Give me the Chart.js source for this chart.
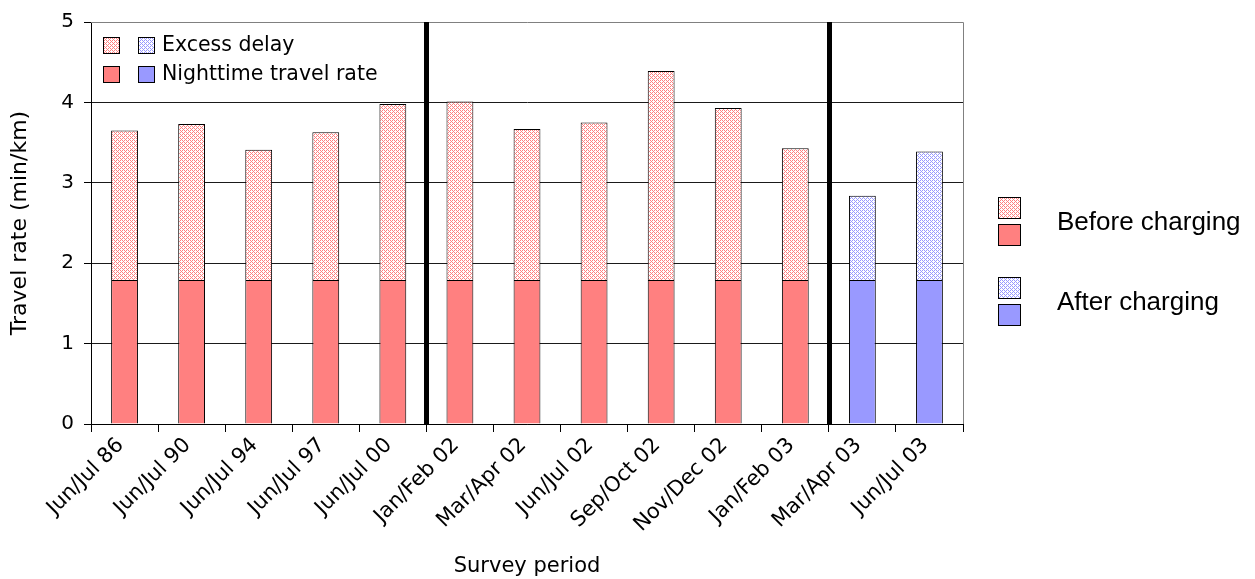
<!DOCTYPE html>
<html>
<head>
<meta charset="utf-8">
<script src="https://cdn.jsdelivr.net/npm/chart.js@4/dist/chart.umd.min.js"></script>
<style>
  html, body { margin: 0; padding: 0; background: #ffffff; }
  #wrap { width: 1255px; height: 579px; }
</style>
</head>
<body>
<div id="wrap"><canvas id="c" width="1255" height="579"></canvas></div>
<script>
// Survey periods along the x axis
const categories = ['Jun/Jul 86', 'Jun/Jul 90', 'Jun/Jul 94', 'Jun/Jul 97', 'Jun/Jul 00',
  'Jan/Feb 02', 'Mar/Apr 02', 'Jun/Jul 02', 'Sep/Oct 02', 'Nov/Dec 02', 'Jan/Feb 03',
  'Mar/Apr 03', 'Jun/Jul 03'];

// Travel rate components (min/km)
const nighttimeRate = [1.79, 1.79, 1.79, 1.79, 1.79, 1.79, 1.79, 1.79, 1.79, 1.79, 1.79, 1.79, 1.79];
const excessDelay   = [1.86, 1.94, 1.62, 1.84, 2.19, 2.22, 1.88, 1.96, 2.60, 2.14, 1.64, 1.05, 1.60];

// Whether each survey was taken before or after congestion charging began
const chargingPhase = ['before', 'before', 'before', 'before', 'before', 'before', 'before',
  'before', 'before', 'before', 'before', 'after', 'after'];

// Heavy separators are drawn on the left edge of these periods
const dividers = ['Jan/Feb 02', 'Mar/Apr 03'];

const yTicks = [0, 1, 2, 3, 4, 5];

const FONT = '"DejaVu Sans", Verdana, sans-serif';
const SOLID = { before: '#FF8080', after: '#9999FF' };

// Dotted fill used for the excess delay segments
function dotPattern(color) {
  const t = document.createElement('canvas');
  t.width = 4; t.height = 4;
  const g = t.getContext('2d');
  g.fillStyle = '#ffffff';
  g.fillRect(0, 0, 4, 4);
  g.fillStyle = color;
  const dots = [[0,0],[2,0],[3,1],[0,2],[2,2],[1,3]];
  dots.forEach(([x, y]) => g.fillRect(x, y, 1, 1));
  return g.createPattern(t, 'repeat');
}
const DOTTED = { before: dotPattern('#FF8080'), after: dotPattern('#9999FF') };

function swatch(ctx, x, y, w, h, fill) {
  ctx.fillStyle = fill;
  ctx.fillRect(x, y, w, h);
  ctx.strokeStyle = '#000000';
  ctx.lineWidth = 1;
  ctx.strokeRect(x + 0.5, y + 0.5, w - 1, h - 1);
}

const decorations = {
  id: 'decorations',
  beforeDatasetsDraw(chart) {
    const { ctx, chartArea: a } = chart;
    // grey plot frame on top and right
    ctx.save();
    ctx.strokeStyle = '#808080';
    ctx.lineWidth = 1;
    ctx.beginPath();
    ctx.moveTo(a.left, Math.round(a.top) + 0.5);
    ctx.lineTo(Math.round(a.right) + 0.5, Math.round(a.top) + 0.5);
    ctx.lineTo(Math.round(a.right) + 0.5, a.bottom);
    ctx.stroke();
    ctx.restore();
  },
  afterDatasetsDraw(chart) {
    const { ctx, chartArea: a, scales: { x } } = chart;
    ctx.save();
    // heavy separators between survey groups
    ctx.fillStyle = '#000000';
    dividers.forEach(label => {
      const i = categories.indexOf(label);
      const px = Math.round(x.getPixelForValue(i - 0.5));
      ctx.fillRect(px - 2, a.top, 5, a.bottom - a.top + 1);
    });

    // series key inside the plot
    const lx = a.left + 12;
    ctx.font = '20.5px ' + FONT;
    ctx.textBaseline = 'middle';
    ctx.textAlign = 'left';
    const rows = [
      { y: a.top + 15, fills: [DOTTED.before, DOTTED.after], text: 'Excess delay' },
      { y: a.top + 44, fills: [SOLID.before, SOLID.after], text: 'Nighttime travel rate' }
    ];
    rows.forEach(r => {
      swatch(ctx, lx, r.y, 17, 17, r.fills[0]);
      swatch(ctx, lx + 35, r.y, 17, 17, r.fills[1]);
      ctx.fillStyle = '#000000';
      ctx.fillText(r.text, lx + 59, r.y + 9);
    });

    // charging key at the right
    const rx = a.right + 35;
    ctx.font = '26px "Liberation Sans", Arial, sans-serif';
    const groups = [
      { y: a.top + 175, phase: 'before', text: 'Before charging' },
      { y: a.top + 255, phase: 'after', text: 'After charging' }
    ];
    groups.forEach(gp => {
      swatch(ctx, rx, gp.y, 23, 22, DOTTED[gp.phase]);
      swatch(ctx, rx, gp.y + 27, 23, 22, SOLID[gp.phase]);
      ctx.fillStyle = '#000000';
      ctx.fillText(gp.text, rx + 59, gp.y + 26);
    });
    ctx.restore();
  }
};

new Chart(document.getElementById('c'), {
  type: 'bar',
  data: {
    labels: categories,
    datasets: [
      {
        label: 'Nighttime travel rate',
        data: nighttimeRate,
        backgroundColor: c => SOLID[chargingPhase[c.dataIndex]],
        borderColor: '#000000',
        borderWidth: 1
      },
      {
        label: 'Excess delay',
        data: excessDelay,
        backgroundColor: c => DOTTED[chargingPhase[c.dataIndex]],
        borderColor: '#000000',
        borderWidth: 1
      }
    ]
  },
  options: {
    responsive: false,
    animation: false,
    devicePixelRatio: 1,
    layout: { padding: { left: 0, right: 292, top: 20, bottom: 0 } },
    datasets: { bar: { barPercentage: 0.4, categoryPercentage: 1.0 } },
    plugins: { legend: { display: false }, tooltip: { enabled: false } },
    scales: {
      x: {
        stacked: true,
        offset: true,
        grid: {
          offset: true,
          drawOnChartArea: false,
          color: '#000000',
          tickLength: 8
        },
        border: { color: '#000000', width: 1 },
        ticks: {
          color: '#000000',
          font: { family: FONT, size: 21 },
          minRotation: 45,
          maxRotation: 45,
          autoSkip: false,
          padding: 1,
          labelOffset: -4
        },
        title: {
          display: true,
          text: 'Survey period',
          color: '#000000',
          font: { family: FONT, size: 21 },
          padding: { top: 0, bottom: 0 }
        },
        afterFit: s => { s.height = 155; }
      },
      y: {
        stacked: true,
        min: 0,
        max: 5,
        afterBuildTicks: s => { s.ticks = yTicks.map(v => ({ value: v })); },
        grid: {
          color: c => (c.tick && c.tick.value === 5 ? 'rgba(0,0,0,0)' : '#1a1a1a'),
          tickColor: '#000000',
          tickLength: 7
        },
        border: { color: '#000000', width: 1 },
        ticks: {
          color: '#000000',
          font: { family: FONT, size: 20 },
          padding: 10
        },
        title: {
          display: true,
          text: 'Travel rate (min/km)',
          color: '#000000',
          font: { family: FONT, size: 22 },
          padding: { top: 7, bottom: 0 }
        },
        afterFit: s => { s.width = 91; }
      }
    }
  },
  plugins: [decorations]
});
</script>
</body>
</html>
